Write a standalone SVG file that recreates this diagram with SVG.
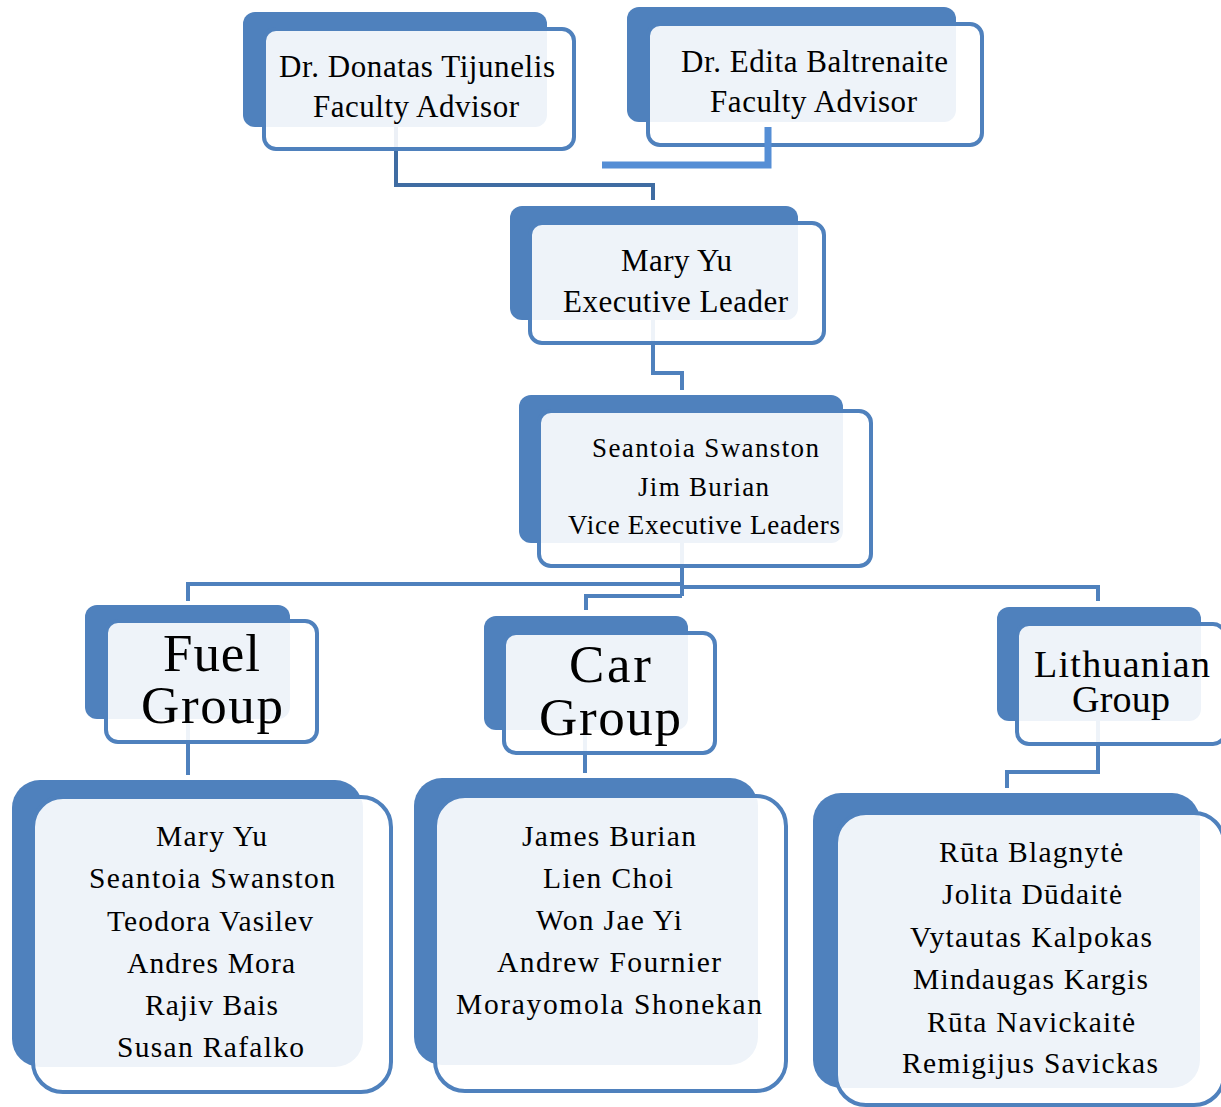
<svg xmlns="http://www.w3.org/2000/svg" width="1221" height="1107" viewBox="0 0 1221 1107">
<style>
.back{fill:#4F81BD;}
.front{fill:#FFFFFF;fill-opacity:0.9;stroke:#4F81BD;stroke-width:4;}
.conn{fill:none;stroke:#4F81BD;stroke-width:4;}
.t{font-family:"Liberation Serif","Times New Roman",serif;fill:#000;}
.s30{font-size:31px;}
.s26{font-size:27px;}
.s28{font-size:29.5px;}
.s54{font-size:53px;}
.s38{font-size:38px;}
</style>
<rect width="1221" height="1107" fill="#FFFFFF"/>
<g id="connectors">
<path class="conn" d="M396,120 V185 H653 V200" style="stroke:#3F6CA2"/>
<path class="conn" d="M653,315 V373 H682 V390"/>
<path class="conn" d="M682,540 V596"/>
<path class="conn" d="M682,584 H188 V601"/>
<path class="conn" d="M682,587 H1098 V601"/>
<path class="conn" d="M682,596 H586 V610"/>
<path class="conn" d="M188,715 V775"/>
<path class="conn" d="M585,725 V773"/>
<path class="conn" d="M1098,715 V772 H1007 V788"/>
</g>
<g id="n-tijunelis">
<rect class="back" x="243" y="12" width="304" height="115" rx="12"/>
<rect class="front" x="264" y="29" width="310" height="120" rx="12"/>
<text class="t s30" x="279" y="77" textLength="276" lengthAdjust="spacing">Dr. Donatas Tijunelis</text>
<text class="t s30" x="313" y="117" textLength="206" lengthAdjust="spacing">Faculty Advisor</text>
</g>
<g id="n-baltrenaite">
<rect class="back" x="627" y="7" width="329" height="115" rx="12"/>
<rect class="front" x="648" y="24" width="334" height="121" rx="12"/>
<text class="t s30" x="681" y="72" textLength="267" lengthAdjust="spacing">Dr. Edita Baltrenaite</text>
<text class="t s30" x="710" y="112" textLength="207" lengthAdjust="spacing">Faculty Advisor</text>
</g>
<path class="conn" d="M768,127 V165 H602" style="stroke:#558ED5;stroke-width:7;stroke-linejoin:miter"/>
<g id="n-maryyu">
<rect class="back" x="510" y="206" width="288" height="114" rx="12"/>
<rect class="front" x="530" y="223" width="294" height="120" rx="12"/>
<text class="t s30" x="621" y="271" textLength="111" lengthAdjust="spacing">Mary Yu</text>
<text class="t s30" x="563" y="312" textLength="225" lengthAdjust="spacing">Executive Leader</text>
</g>
<g id="n-vice">
<rect class="back" x="519" y="395" width="324" height="148" rx="12"/>
<rect class="front" x="539" y="411" width="332" height="155" rx="12"/>
<text class="t s26" x="592" y="457" textLength="227" lengthAdjust="spacing">Seantoia Swanston</text>
<text class="t s26" x="638" y="496" textLength="131" lengthAdjust="spacing">Jim Burian</text>
<text class="t s26" x="568" y="534" textLength="272" lengthAdjust="spacing">Vice Executive Leaders</text>
</g>
<g id="n-fuel">
<rect class="back" x="85" y="605" width="205" height="114" rx="12"/>
<rect class="front" x="106" y="621" width="211" height="121" rx="12"/>
<text class="t s54" x="163" y="671" textLength="97" lengthAdjust="spacing">Fuel</text>
<text class="t s54" x="141" y="723" textLength="142" lengthAdjust="spacing">Group</text>
</g>
<g id="n-car">
<rect class="back" x="484" y="616" width="204" height="114" rx="12"/>
<rect class="front" x="504" y="633" width="211" height="120" rx="12"/>
<text class="t s54" x="569" y="682" textLength="82" lengthAdjust="spacing">Car</text>
<text class="t s54" x="539" y="735" textLength="142" lengthAdjust="spacing">Group</text>
</g>
<g id="n-lith">
<rect class="back" x="997" y="607" width="204" height="114" rx="12"/>
<rect class="front" x="1017" y="624" width="208" height="120" rx="12"/>
<text class="t s38" x="1034" y="677" textLength="176" lengthAdjust="spacing">Lithuanian</text>
<text class="t s38" x="1072" y="712" textLength="98" lengthAdjust="spacing">Group</text>
</g>
<g id="n-fuel-members">
<rect class="back" x="12" y="780" width="351" height="287" rx="28"/>
<rect class="front" x="33" y="797" width="358" height="295" rx="30"/>
<text class="t s28" x="156" y="846" textLength="111" lengthAdjust="spacing">Mary Yu</text>
<text class="t s28" x="89" y="888" textLength="246" lengthAdjust="spacing">Seantoia Swanston</text>
<text class="t s28" x="107" y="931" textLength="206" lengthAdjust="spacing">Teodora Vasilev</text>
<text class="t s28" x="127" y="973" textLength="168" lengthAdjust="spacing">Andres Mora</text>
<text class="t s28" x="145" y="1015" textLength="133" lengthAdjust="spacing">Rajiv Bais</text>
<text class="t s28" x="117" y="1057" textLength="187" lengthAdjust="spacing">Susan Rafalko</text>
</g>
<g id="n-car-members">
<rect class="back" x="414" y="778" width="344" height="287" rx="28"/>
<rect class="front" x="435" y="796" width="351" height="295" rx="30"/>
<text class="t s28" x="522" y="846" textLength="174" lengthAdjust="spacing">James Burian</text>
<text class="t s28" x="543" y="888" textLength="130" lengthAdjust="spacing">Lien Choi</text>
<text class="t s28" x="536" y="930" textLength="146" lengthAdjust="spacing">Won Jae Yi</text>
<text class="t s28" x="497" y="972" textLength="224" lengthAdjust="spacing">Andrew Fournier</text>
<text class="t s28" x="456" y="1014" textLength="306" lengthAdjust="spacing">Morayomola Shonekan</text>
</g>
<g id="n-lith-members">
<rect class="back" x="813" y="793" width="387" height="295" rx="28"/>
<rect class="front" x="836" y="813" width="388" height="292" rx="30"/>
<text class="t s28" x="939" y="862" textLength="184" lengthAdjust="spacing">Rūta Blagnytė</text>
<text class="t s28" x="942" y="904" textLength="180" lengthAdjust="spacing">Jolita Dūdaitė</text>
<text class="t s28" x="910" y="947" textLength="242" lengthAdjust="spacing">Vytautas Kalpokas</text>
<text class="t s28" x="913" y="989" textLength="235" lengthAdjust="spacing">Mindaugas Kargis</text>
<text class="t s28" x="927" y="1032" textLength="208" lengthAdjust="spacing">Rūta Navickaitė</text>
<text class="t s28" x="902" y="1073" textLength="256" lengthAdjust="spacing">Remigijus Savickas</text>
</g>
</svg>
